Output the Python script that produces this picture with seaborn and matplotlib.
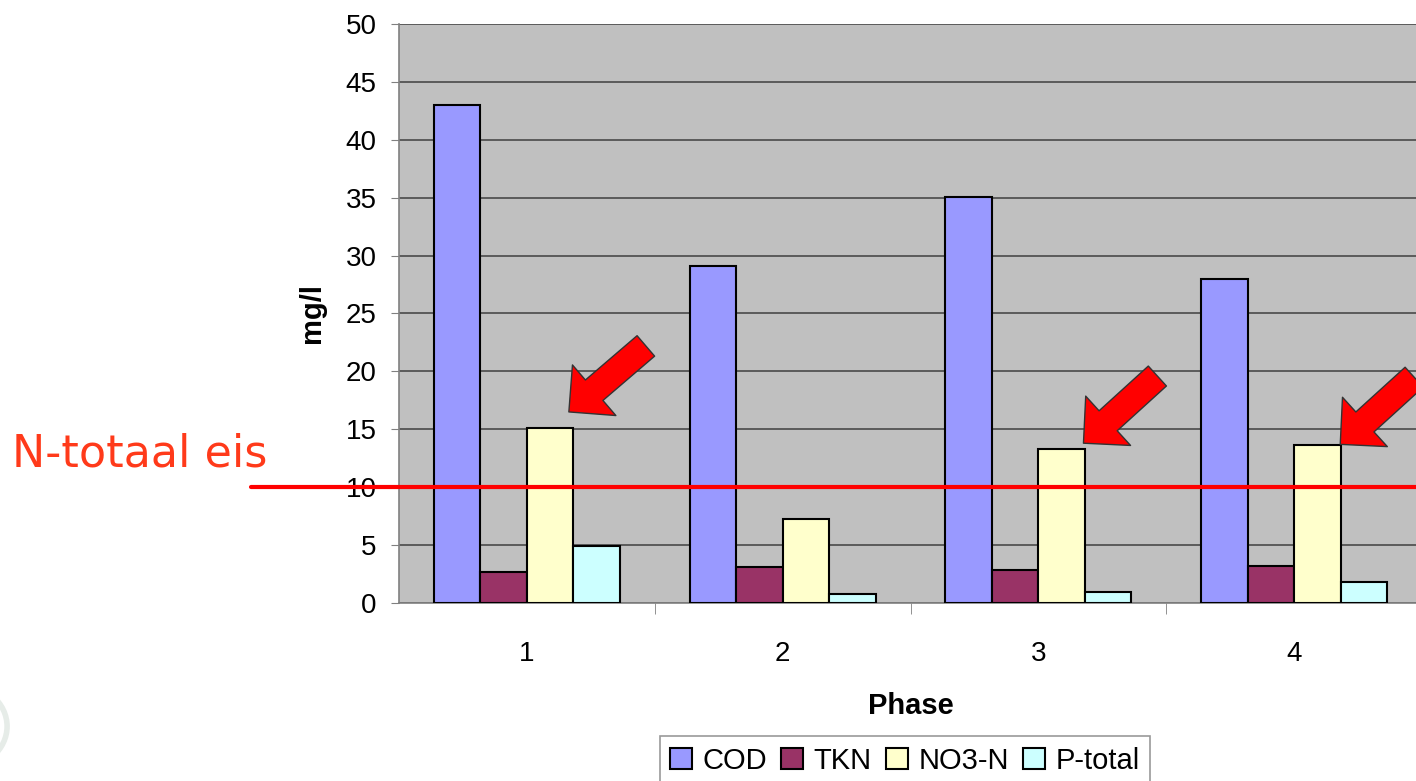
import numpy as np
import pandas as pd
import seaborn as sns
import matplotlib.pyplot as plt
from matplotlib.patches import Patch, Ellipse
from matplotlib.ticker import MultipleLocator, FixedLocator

# data
phases = ["1", "2", "3", "4"]
cod = [43.0, 29.1, 35.1, 28.0]
tkn = [2.7, 3.1, 2.85, 3.2]
no3 = [15.1, 7.25, 13.3, 13.65]
ptot = [4.9, 0.8, 0.95, 1.8]
params = ["COD", "TKN", "NO3-N", "P-total"]
colors = ["#9999FF", "#993366", "#FFFFCC", "#CCFFFF"]
eis = 10
eis_label = "N-totaal eis"
# arrows (tip, tail) in data units
arrow_tips = [(0.164, 16.5), (2.176, 13.8), (3.18, 13.7)]
arrow_tails = [(0.465, 22.2), (2.465, 19.6), (3.469, 19.5)]

sns.set_style("white")
plt.rcParams['font.family'] = ['Liberation Sans', 'DejaVu Sans']
for k in ["text.color", "axes.labelcolor", "xtick.labelcolor", "ytick.labelcolor"]:
    plt.rcParams[k] = "black"

df = pd.DataFrame({"Phase": phases * 4,
                   "param": sum([[p] * 4 for p in params], []),
                   "value": cod + tkn + no3 + ptot})

fig = plt.figure(figsize=(14.16, 7.81), dpi=100)
ax = fig.add_axes([0.2818, 0.2279, 0.7225, 0.7414])
ax.set_facecolor("#C0C0C0")

sns.barplot(data=df, x="Phase", y="value", hue="param", hue_order=params,
            palette=dict(zip(params, colors)), width=0.727, saturation=1,
            edgecolor="black", linewidth=1.5, legend=False, ax=ax, zorder=3)

ax.set_ylim(0, 50)
ax.set_xlim(-0.5, 3.5)
ax.yaxis.set_major_locator(MultipleLocator(5))
ax.grid(axis="y", color="#4a4a4a", lw=1.2, zorder=0)
ax.set_axisbelow(True)
for s in ["top", "right"]:
    ax.spines[s].set_visible(False)
for s in ["left", "bottom"]:
    ax.spines[s].set_color("#808080")
    ax.spines[s].set_linewidth(1.2)

ax.tick_params(axis="y", labelsize=20, length=6, pad=10, color="#808080", left=True,
               labelcolor="black")
ax.tick_params(axis="x", which="major", labelsize=20, length=0, pad=27, labelcolor="black")
ax.xaxis.set_minor_locator(FixedLocator([0.5, 1.5, 2.5]))
ax.tick_params(axis="x", which="minor", length=8, color="#808080", bottom=True)
ax.set_xlabel("Phase", fontsize=21, fontweight="bold", labelpad=18, color="black")
ax.set_ylabel("mg/l", fontsize=21, fontweight="bold", labelpad=14, color="black")

# red requirement line, reaching past the axes
ax.plot([-1.08, 3.5], [eis, eis], color="red", lw=3, clip_on=False, zorder=5)
fig.text(0.0085, 0.419, eis_label, color="#FF3A1A", fontsize=32,
         family="DejaVu Sans", va="center", ha="left")

for tip, tail in zip(arrow_tips, arrow_tails):
    ax.annotate("", xy=tip, xytext=tail, zorder=6,
                arrowprops=dict(arrowstyle="simple,head_width=2.4,head_length=1.2,tail_width=0.97",
                                mutation_scale=20, fc="red", ec="#333333", lw=1,
                                shrinkA=0, shrinkB=0))

handles = [Patch(facecolor=c, edgecolor="black", lw=1.5) for c in colors]
leg = fig.legend(handles, params, loc="upper center", bbox_to_anchor=(0.639, 0.057),
                 ncol=4, fontsize=21, frameon=True, fancybox=False,
                 handlelength=0.75, handleheight=0.75, handletextpad=0.35,
                 columnspacing=0.5, borderpad=0.35, borderaxespad=0)
leg.get_frame().set_edgecolor("#808080")
leg.get_frame().set_linewidth(1.2)

# faint logo ring at the lower left corner
fig.patches.append(Ellipse((-0.03, 0.07), 0.07, 0.11, transform=fig.transFigure,
                           fill=False, ec="#E6ECE8", lw=4, figure=fig))

plt.savefig("out.png", dpi=100)
